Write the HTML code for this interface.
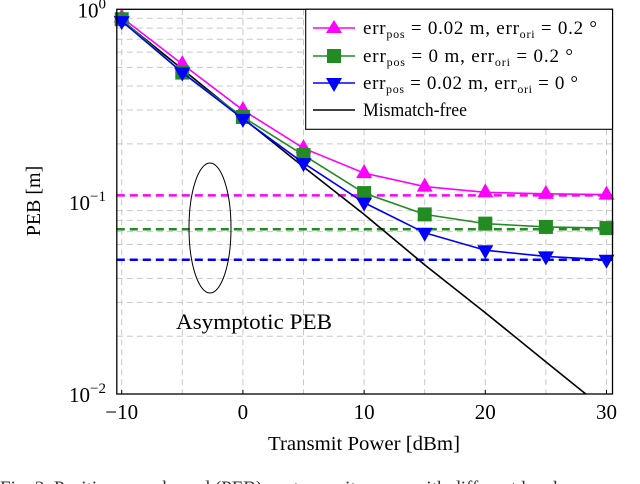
<!DOCTYPE html>
<html><head><meta charset="utf-8">
<style>
html,body{margin:0;padding:0;background:#fff;width:640px;height:484px;overflow:hidden}
svg{display:block;font-family:"Liberation Serif",serif}
</style></head>
<body>
<svg id="chart" width="640" height="484" viewBox="0 0 640 484" xmlns="http://www.w3.org/2000/svg">
<g id="grid"></g>
<g id="asym"></g>
<g id="series"></g>
<rect x="116.8" y="9.3" width="495.7" height="384.7" fill="none" stroke="#000" stroke-width="1.3"/>
<g id="ticks"></g>
<ellipse cx="210" cy="228" rx="21" ry="65" fill="none" stroke="#000" stroke-width="1"/>
<text x="176" y="329" font-size="22" textLength="156" lengthAdjust="spacingAndGlyphs">Asymptotic PEB</text>
<text transform="translate(40,201) rotate(-90)" text-anchor="middle" font-size="20">PEB [m]</text>
<text x="364" y="450" text-anchor="middle" font-size="20" textLength="192" lengthAdjust="spacingAndGlyphs">Transmit Power [dBm]</text>
<text x="0" y="494" font-size="19" fill="#333">Fig. 2.  Position error bound (PEB) vs. transmit power with different levels</text>
<g>
<rect x="305.7" y="9.3" width="306.8" height="120" fill="#fff" stroke="#000" stroke-width="1.1"/>
<g>
<line x1="313" y1="28" x2="355" y2="28" stroke="#ff00ff" stroke-width="1.6"/>
<polygon points="334,20 342,33 326,33" fill="#ff00ff"/>
<text x="363" y="34" font-size="19" textLength="234" lengthAdjust="spacing">err<tspan font-size="12" dy="4">pos</tspan><tspan dy="-4">  =  0.02 m,  err</tspan><tspan font-size="12" dy="4">ori</tspan><tspan dy="-4">  =  0.2 °</tspan></text>
</g>
<g>
<line x1="313" y1="56" x2="355" y2="56" stroke="#228b22" stroke-width="1.6"/>
<rect x="327" y="49" width="14" height="14" fill="#228b22"/>
<text x="363" y="62" font-size="19" textLength="210" lengthAdjust="spacing">err<tspan font-size="12" dy="4">pos</tspan><tspan dy="-4">  =  0 m,  err</tspan><tspan font-size="12" dy="4">ori</tspan><tspan dy="-4">  =  0.2 °</tspan></text>
</g>
<g>
<line x1="313" y1="83" x2="355" y2="83" stroke="#0000ff" stroke-width="1.6"/>
<polygon points="326,78 342,78 334,92" fill="#0000ff"/>
<text x="363" y="89" font-size="19" textLength="215" lengthAdjust="spacing">err<tspan font-size="12" dy="4">pos</tspan><tspan dy="-4">  =  0.02 m,  err</tspan><tspan font-size="12" dy="4">ori</tspan><tspan dy="-4">  =  0 °</tspan></text>
</g>
<g>
<line x1="313" y1="110" x2="355" y2="110" stroke="#000" stroke-width="1.6"/>
<text x="363" y="116" font-size="19" textLength="104" lengthAdjust="spacingAndGlyphs">Mismatch-free</text>
</g>
</g>
</svg>
<script>
const powers = [-10,-5,0,5,10,15,20,25,30];
const pebMagenta = [0.91,0.52,0.30,0.19,0.141,0.12,0.112,0.110,0.109];
const pebGreen = [0.89,0.47,0.276,0.175,0.111,0.086,0.077,0.074,0.073];
const pebBlue = [0.87,0.47,0.27,0.159,0.099,0.069,0.056,0.052,0.050];
const pebFree = [0.88,0.49,0.272,0.152,0.086,0.047,0.0265,0.0147,0.0082];
const asymptotes = [0.108,0.072,0.050];
const xTicks = [-10,0,10,20,30];
const yDecades = [0,-1,-2];

const NS='http://www.w3.org/2000/svg';
const X0=116.8,X1=612.5,Y0=9.3,Y1=394;
function xs(v){return 121.7+(v+10)*12.12;}
function ys(v){return 9.5-Math.log10(v)*192.3;}
function mk(tag,attrs,parent){const e=document.createElementNS(NS,tag);for(const k in attrs)e.setAttribute(k,attrs[k]);parent.appendChild(e);return e;}

const grid=document.getElementById('grid');
for(let p=-10;p<=30;p+=5){
  const l=mk('line',{x1:xs(p),x2:xs(p),y1:Y0,y2:Y1,stroke:'#c8c8c8','stroke-dasharray':'6,4','stroke-width':1},grid);
  
  
}
for(const d of [-2,-1]){
  for(let m=2;m<=9;m++){
    const y=ys(m*Math.pow(10,d));
    const l=mk('line',{x1:X0,x2:X1,y1:y,y2:y,stroke:'#c8c8c8','stroke-dasharray':'6,4','stroke-width':1},grid);
    
    
  }
}
const asym=document.getElementById('asym');
const colors=['#ff00ff','#228b22','#0000ff'];
asymptotes.forEach((a,i)=>{
  const l=mk('line',{x1:X0,x2:X1,y1:ys(a),y2:ys(a),stroke:colors[i],'stroke-width':2.5,'stroke-dasharray':'8,5'},asym);
  
  
});
const ser=document.getElementById('series');
const cp=mk('clipPath',{id:'clip'},ser);mk('rect',{x:X0,y:Y0,width:X1-X0,height:Y1-Y0},cp);
function line(data,color,name){
  const pts=powers.map((p,i)=>xs(p)+','+ys(data[i])).join(' ');
  const pl=mk('polyline',{points:pts,fill:'none',stroke:color,'stroke-width':1.6,'clip-path':'url(#clip)'},ser);
  
  
}
line(pebFree,'#000','mismatch-free-line');
function markers(data,color,shape,name){
  powers.forEach((p,i)=>{
    const x=xs(p),y=ys(data[i]);let e;
    if(shape==='up')e=mk('polygon',{points:`${x},${y-9} ${x+8},${y+5} ${x-8},${y+5}`,fill:color},ser);
    else if(shape==='down')e=mk('polygon',{points:`${x-8},${y-5} ${x+8},${y-5} ${x},${y+9}`,fill:color},ser);
    else e=mk('rect',{x:x-7,y:y-7,width:14,height:14,fill:color},ser);
    
    
  });
}
line(pebMagenta,'#ff00ff','magenta-line');markers(pebMagenta,'#ff00ff','up','magenta-marker');
line(pebGreen,'#228b22','green-line');markers(pebGreen,'#228b22','sq','green-marker');
line(pebBlue,'#0000ff','blue-line');markers(pebBlue,'#0000ff','down','blue-marker');

const tk=document.getElementById('ticks');
xTicks.forEach(v=>{
  const t=mk('text',{x:xs(v),y:419,'text-anchor':'middle','font-size':21},tk);
  t.textContent=v<0?'\u2212'+Math.abs(v):String(v);
  
  
  mk('line',{x1:xs(v),x2:xs(v),y1:Y1,y2:Y1-4,stroke:'#000'},tk);
});
yDecades.forEach(d=>{
  const y=ys(Math.pow(10,d));
  const t=mk('text',{x:106,y:y+8,'text-anchor':'end','font-size':21},tk);
  t.textContent='10';
  const s=mk('tspan',{dy:-9,'font-size':15},t);
  s.textContent=d===0?'0':'\u2212'+Math.abs(d);
  
  
});
</script>
</body></html>
